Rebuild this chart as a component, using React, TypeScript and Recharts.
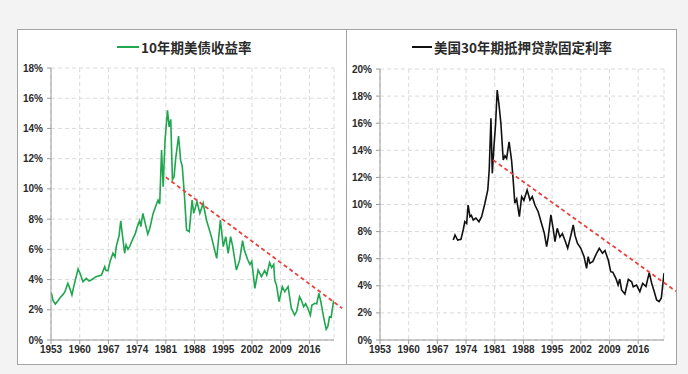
import React from 'react';
import { LineChart, Line, XAxis, YAxis, CartesianGrid, ReferenceLine } from 'recharts';

// 10年期美债收益率
const tyYears = [
  1953.07, 1953.5, 1954.05, 1954.7, 1955.2, 1955.9, 1956.4, 1957.1, 1957.6, 1958.1,
  1958.6, 1959.6, 1960.1, 1960.8, 1961.6, 1962.3, 1962.8, 1964.0, 1965.3, 1966.1,
  1966.4, 1966.9, 1967.4, 1968.1, 1968.6, 1968.9, 1969.6, 1970.0, 1970.3, 1970.95,
  1971.3, 1971.75, 1972.2, 1973.0, 1973.5, 1974.0, 1974.6, 1974.9, 1975.4, 1975.9,
  1976.6, 1977.1, 1977.9, 1978.6, 1979.1, 1979.5, 1979.96, 1980.35, 1980.8, 1981.4,
  1981.8, 1982.2, 1982.6, 1983.0, 1983.4, 1984.1, 1984.6, 1985.0, 1985.5, 1986.05,
  1986.7, 1987.4, 1987.8, 1988.6, 1989.3, 1990.1, 1990.9, 1992.1, 1993.4, 1994.3,
  1995.0, 1995.6, 1996.2, 1996.8, 1997.3, 1998.2, 1999.0, 1999.7, 2000.2, 2001.0,
  2001.5, 2001.95, 2002.7, 2003.5, 2004.3, 2005.1, 2005.6, 2006.3, 2006.8, 2007.3,
  2007.55, 2008.0, 2008.6, 2009.4, 2010.0, 2010.8, 2011.6, 2012.4, 2012.9, 2013.6,
  2014.1, 2014.6, 2015.1, 2015.6, 2016.25, 2016.6, 2017.3, 2017.8, 2018.3, 2018.75,
  2019.3, 2019.7, 2020.1, 2020.5, 2020.9, 2021.3, 2021.9,
];
const tyValues = [
  3.13, 2.6, 2.38, 2.6, 2.8, 3.0, 3.2, 3.75, 3.4, 2.98,
  3.6, 4.7, 4.4, 3.86, 4.08, 3.9, 3.97, 4.19, 4.3, 4.85,
  4.6, 4.59, 5.2, 5.74, 5.5, 6.18, 6.9, 7.88, 7.2, 5.74,
  6.3, 6.0, 6.2, 6.73, 7.0, 7.46, 7.9, 7.5, 8.38, 7.8,
  7.0, 7.4, 8.38, 8.9, 9.26, 9.0, 12.57, 10.15, 13.2, 15.2,
  14.1, 14.6, 10.6, 10.8, 12.0, 13.5, 11.9, 11.5, 9.7, 7.28,
  7.17, 9.26, 8.38, 9.15, 8.38, 9.05, 7.94, 6.84, 5.4, 7.94,
  6.18, 6.84, 5.74, 6.84, 6.2, 4.63, 5.3, 6.57, 5.9, 5.29,
  5.0, 5.2, 3.42, 4.63, 4.19, 4.6, 4.3, 5.12, 4.8, 5.0,
  3.97, 3.6, 2.54, 3.53, 3.2, 3.53, 2.1, 1.65, 1.9, 2.87,
  2.6, 2.2, 2.4, 2.1, 1.65, 2.3, 2.43, 2.4, 3.09, 2.6,
  1.76, 1.2, 0.71, 0.9, 1.54, 1.5, 2.6,
];

// 美国30年期抵押贷款固定利率
const mtgYears = [
  1970.88, 1971.3, 1971.95, 1972.75, 1973.3, 1973.7, 1974.15, 1974.5, 1974.95, 1975.3,
  1975.75, 1976.4, 1977.15, 1977.8, 1978.6, 1979.3, 1979.65, 1980.07, 1980.4, 1980.8,
  1981.2, 1981.6, 1982.0, 1982.5, 1983.07, 1983.5, 1983.9, 1984.5, 1985.1, 1985.5,
  1985.9, 1986.35, 1987.0, 1987.56, 1988.1, 1988.9, 1989.6, 1990.15, 1990.8, 1991.6,
  1992.4, 1993.1, 1993.66, 1994.05, 1994.7, 1995.3, 1995.7, 1996.25, 1996.9, 1997.5,
  1998.1, 1998.8, 1999.6, 2000.15, 2000.6, 2001.2, 2002.0, 2002.8, 2003.4, 2003.8,
  2004.2, 2004.95, 2005.85, 2006.5, 2007.3, 2007.9, 2008.7, 2009.3, 2009.8, 2010.55,
  2011.1, 2011.5, 2011.95, 2012.75, 2013.6, 2014.4, 2014.8, 2015.6, 2016.4, 2017.1,
  2017.9, 2018.7, 2019.3, 2019.8, 2020.5, 2021.1, 2021.65, 2022.3,
];
const mtgValues = [
  7.38, 7.75, 7.38, 7.43, 8.12, 8.73, 8.6, 9.96, 9.1, 9.2,
  8.86, 9.0, 8.73, 9.1, 10.09, 11.07, 12.55, 16.36, 12.3, 14.27,
  15.9, 18.45, 17.47, 16.0, 13.28, 13.6, 13.4, 14.63, 13.28, 11.8,
  10.09, 10.4, 9.1, 10.58, 10.3, 11.07, 10.33, 10.58, 9.96, 9.47,
  8.61, 7.87, 6.89, 7.6, 9.23, 8.12, 7.26, 8.24, 7.6, 7.85,
  7.38, 6.77, 7.75, 8.49, 7.7, 7.13, 6.77, 6.15, 5.29, 6.15,
  5.66, 5.8, 6.4, 6.77, 6.4, 6.6, 5.9, 5.04, 5.0, 4.55,
  4.06, 4.5, 3.69, 3.39, 4.48, 4.3, 3.93, 4.05, 3.57, 4.18,
  3.95, 4.97, 4.18, 3.69, 2.95, 2.83, 3.1, 4.92,
];

const yearTicks = [1953, 1960, 1967, 1974, 1981, 1988, 1995, 2002, 2009, 2016];
const tyPctTicks = [0, 2, 4, 6, 8, 10, 12, 14, 16, 18];
const mtgPctTicks = [0, 2, 4, 6, 8, 10, 12, 14, 16, 18, 20];

// 趋势线端点 [年份, 数值]
const tyTrend = [[1981.0, 10.77], [2024.0, 2.1]];
const mtgTrend = [[1980.6, 13.28], [2025.2, 3.6]];

const tyData = tyYears.map((y, i) => ({ year: y, value: tyValues[i] }));
const mtgData = mtgYears.map((y, i) => ({ year: y, value: mtgValues[i] }));

const tickStyle = { fontSize: 10, fill: '#2a2a2a', fontWeight: 700, fontFamily: 'Liberation Sans, Arial, sans-serif' };
const axisColor = '#9a9a9a';

function Panel(props: {
  left: number; width: number; data: any[]; color: string; domainMax: number;
  yTicks: number[]; yMax: number; trend: number[][]; marginTop: number;
}) {
  const { left, width, data, color, domainMax, yTicks, yMax, trend, marginTop } = props;
  return (
    <div style={{ position: 'absolute', left, top: 29 }}>
      <LineChart width={width} height={335} data={data}
        margin={{ top: marginTop, right: 13, left: 0, bottom: 0 }}>
        <CartesianGrid stroke="#dadada" strokeDasharray="4 3" />
        <XAxis dataKey="year" type="number" domain={[1953, domainMax]} ticks={yearTicks}
          allowDataOverflow interval={0} height={24} tickSize={4} tickMargin={2}
          stroke={axisColor} tick={tickStyle} />
        <YAxis type="number" domain={[0, yMax]} ticks={yTicks} interval={0} width={34}
          tickSize={4} tickMargin={4} stroke={axisColor} tick={tickStyle}
          tickFormatter={(v: number) => `${v}%`} />
        <Line type="linear" dataKey="value" stroke={color} strokeWidth={1.6} dot={false}
          isAnimationActive={false} />
        <ReferenceLine segment={[{ x: trend[0][0], y: trend[0][1] }, { x: trend[1][0], y: trend[1][1] }]}
          stroke="#e8423c" strokeWidth={1.8} strokeDasharray="4 3" ifOverflow="visible" />
      </LineChart>
    </div>
  );
}

function LegendLabel(props: { left: number; color: string; lineWidth: number; text: string }) {
  return (
    <div style={{
      position: 'absolute', left: props.left, top: 38, height: 18, display: 'flex', alignItems: 'center',
      fontFamily: '"Noto Sans CJK SC", sans-serif', fontSize: 13.5, fontWeight: 700, color: '#2a2a2a',
      whiteSpace: 'nowrap',
    }}>
      <span style={{ display: 'inline-block', width: props.lineWidth, height: 2, background: props.color, marginRight: 2 }} />
      <span>{props.text}</span>
    </div>
  );
}

export default function App() {
  return (
    <div style={{ position: 'absolute', left: 0, top: 0, width: 688, height: 374, background: '#f3f3f3', overflow: 'hidden' }}>
      <div style={{ position: 'absolute', left: 17, top: 29, width: 330, height: 336, boxSizing: 'border-box', border: '1px solid #a3a3a3', background: '#fff' }} />
      <div style={{ position: 'absolute', left: 346, top: 29, width: 331, height: 336, boxSizing: 'border-box', border: '1px solid #a3a3a3', background: '#fff' }} />
      <Panel left={17} width={330} data={tyData} color="#1fa64f" domainMax={2022}
        yTicks={tyPctTicks} yMax={18} trend={tyTrend} marginTop={39} />
      <Panel left={346} width={331} data={mtgData} color="#111111" domainMax={2022.3}
        yTicks={mtgPctTicks} yMax={20} trend={mtgTrend} marginTop={40} />
      <LegendLabel left={117} color="#1fa64f" lineWidth={22} text="10年期美债收益率" />
      <LegendLabel left={412} color="#111111" lineWidth={20} text="美国30年期抵押贷款固定利率" />
    </div>
  );
}
